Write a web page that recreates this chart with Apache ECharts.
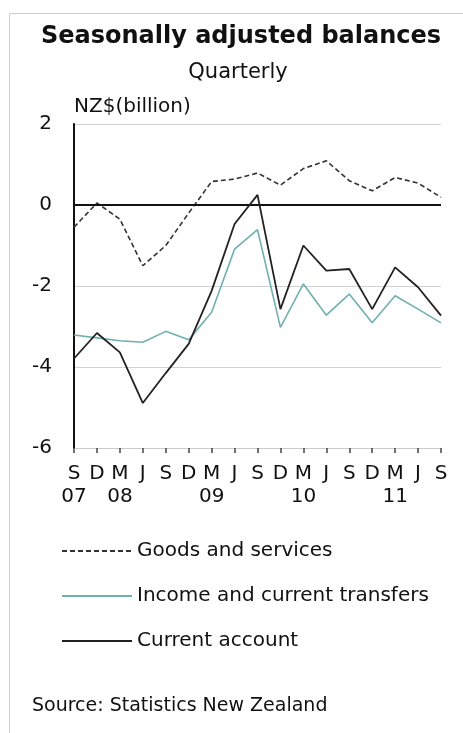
<!DOCTYPE html>
<html>
<head>
<meta charset="utf-8">
<title>Seasonally adjusted balances</title>
<script src="https://cdn.jsdelivr.net/npm/echarts@6/dist/echarts.min.js"></script>
<style>
  html, body { margin: 0; padding: 0; background: #ffffff; }
  #chart { width: 463px; height: 733px; }
</style>
</head>
<body>
<div id="chart"></div>
<script>
// Quarter initials along the time axis, with the year shown under its first quarter
const quarters = ['S', 'D', 'M', 'J', 'S', 'D', 'M', 'J', 'S', 'D', 'M', 'J', 'S', 'D', 'M', 'J', 'S'];
const years    = ['07', '', '08', '', '', '', '09', '', '', '', '10', '', '', '', '11', '', ''];

// Balances, NZ$ billion, seasonally adjusted
const goodsServices = [-0.55, 0.05, -0.35, -1.5, -1.0, -0.2, 0.58, 0.64, 0.79, 0.49, 0.9, 1.09, 0.6, 0.35, 0.68, 0.54, 0.19];
const incomeTransfers = [-3.21, -3.28, -3.35, -3.39, -3.12, -3.33, -2.65, -1.09, -0.61, -3.02, -1.95, -2.72, -2.2, -2.91, -2.24, -2.57, -2.91];
const currentAccount = [-3.79, -3.16, -3.64, -4.89, -4.15, -3.43, -2.12, -0.47, 0.25, -2.57, -1.0, -1.62, -1.58, -2.57, -1.54, -2.03, -2.73];

// Value axis ticks
const yTicks = [-6, -4, -2, 0, 2];

const FONT = 'DejaVu Sans';
const TEXT = '#111111';

const categories = quarters.map((q, i) => i);

const chart = echarts.init(document.getElementById('chart'), null, { renderer: 'canvas' });

chart.setOption({
  animation: false,
  backgroundColor: '#ffffff',
  title: [
    {
      text: 'Seasonally adjusted balances',
      left: 241, top: 25, textAlign: 'center', padding: 0,
      textStyle: { fontFamily: FONT, fontWeight: 'bold', fontSize: 24, color: TEXT }
    },
    {
      text: 'Quarterly',
      left: 238, top: 62, textAlign: 'center', padding: 0,
      textStyle: { fontFamily: FONT, fontWeight: 'normal', fontSize: 21, color: TEXT }
    },
    {
      text: 'Source: Statistics New Zealand',
      left: 32, top: 697, padding: 0,
      textStyle: { fontFamily: FONT, fontWeight: 'normal', fontSize: 19, color: TEXT }
    }
  ],
  graphic: [
    {
      type: 'rect', silent: true, z: -10,
      shape: { x: 9.5, y: 13.5, width: 480, height: 760 },
      style: { fill: null, stroke: '#cfcfcf', lineWidth: 1 }
    }
  ],
  legend: {
    orient: 'vertical',
    left: 56, top: 536,
    itemWidth: 70, itemHeight: 20, itemGap: 25,
    itemStyle: { opacity: 0 },
    textStyle: { fontFamily: FONT, fontSize: 20, color: TEXT, lineHeight: 20 },
    data: ['Goods and services', 'Income and current transfers', 'Current account']
  },
  grid: { left: 74, right: 22, top: 124, bottom: 285, containLabel: false },
  xAxis: {
    type: 'category',
    data: categories,
    boundaryGap: false,
    axisLine: { show: true, onZero: false, lineStyle: { color: '#cccccc', width: 1 } },
    axisTick: { show: true, length: 5, lineStyle: { color: '#444444', width: 1.5 } },
    axisLabel: {
      interval: 0, margin: 14,
      fontFamily: FONT, fontSize: 20, color: TEXT, lineHeight: 23,
      formatter: (v) => {
        const i = Number(v);
        return years[i] ? quarters[i] + '\n' + years[i] : quarters[i];
      }
    },
    splitLine: { show: false }
  },
  yAxis: {
    type: 'value',
    min: yTicks[0], max: yTicks[yTicks.length - 1], interval: 2,
    name: 'NZ$(billion)',
    nameLocation: 'end', nameGap: 17,
    nameTextStyle: { fontFamily: FONT, fontSize: 20, color: TEXT, align: 'left', verticalAlign: 'middle', padding: [0, 0, 0, 0] },
    axisLine: { show: true, onZero: false, lineStyle: { color: '#111111', width: 2 } },
    axisTick: { show: false },
    axisLabel: { margin: 22, fontFamily: FONT, fontSize: 20, color: TEXT },
    splitLine: { show: true, lineStyle: { color: '#d2d2d2', width: 1 } }
  },
  series: [
    {
      name: 'Goods and services',
      type: 'line',
      data: goodsServices,
      symbol: 'none',
      lineStyle: { color: '#333333', width: 1.6, type: [5, 3] },
      itemStyle: { color: '#333333' },
      z: 3,
      markLine: {
        silent: true, symbol: 'none',
        label: { show: false },
        lineStyle: { color: '#111111', width: 2, type: 'solid' },
        data: [{ yAxis: 0 }]
      }
    },
    {
      name: 'Income and current transfers',
      type: 'line',
      data: incomeTransfers,
      symbol: 'none',
      lineStyle: { color: '#6fb0b0', width: 1.6 },
      itemStyle: { color: '#6fb0b0' },
      z: 4
    },
    {
      name: 'Current account',
      type: 'line',
      data: currentAccount,
      symbol: 'none',
      lineStyle: { color: '#222222', width: 1.8 },
      itemStyle: { color: '#222222' },
      z: 5
    }
  ]
});
</script>
</body>
</html>
